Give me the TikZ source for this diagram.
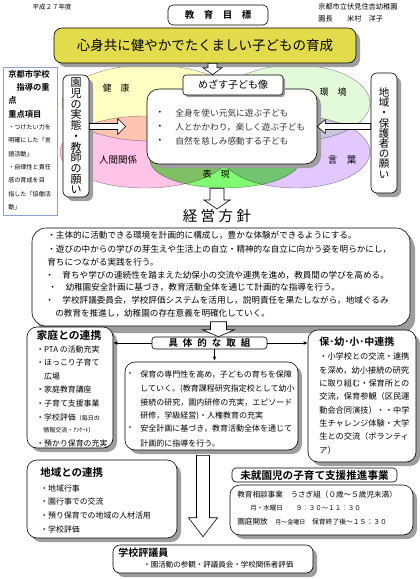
\documentclass[tikz,border=0pt]{standalone}
\usepackage{fontspec}
\setmainfont{Noto Sans CJK JP}[BoldFont={Noto Sans CJK JP Bold}]
\usepackage{tikz}
\usetikzlibrary{arrows.meta,calc,shapes.geometric,shadows}
\definecolor{aimyellow}{RGB}{226,220,76}
\definecolor{kenkou}{RGB}{255,255,196}
\definecolor{ningen}{RGB}{255,196,232}
\definecolor{kankyou}{RGB}{226,250,218}
\definecolor{kotoba}{RGB}{226,200,255}
\definecolor{hyougen}{RGB}{128,250,112}
\definecolor{infoblue}{RGB}{140,160,210}
\newcommand{\fsz}[1]{\fontsize{#1}{#1}\selectfont}
\tikzset{every picture/.style={line width=.6pt}}

\begin{document}
\begin{tikzpicture}[x=1pt,y=-1pt,>={Latex[length=4pt,width=3.5pt]},
 every node/.style={inner sep=0pt},
 panel/.style={draw,fill=white,rounded corners=10pt,
  drop shadow={shadow xshift=4pt,shadow yshift=-4pt,fill=black!38,opacity=1}},
 tag/.style={draw,fill=white,rounded corners=4pt},
 area/.style={ellipse,draw=black!45,line width=.4pt},
 fat/.style n args={3}{to path={
  let \p1=($(\tikztotarget)!#3!(\tikztostart)$) in
  ($(\tikztostart)!#1!90:(\tikztotarget)$)
  -- ($(\p1)!#1!90:(\tikztotarget)$)
  -- ($(\p1)!#2!90:(\tikztotarget)$)
  -- (\tikztotarget)
  -- ($(\p1)!#2!-90:(\tikztotarget)$)
  -- ($(\p1)!#1!-90:(\tikztotarget)$)
  -- ($(\tikztostart)!#1!-90:(\tikztotarget)$) -- cycle}}]
 \useasboundingbox (0,0) rectangle (420,579);
 \fill[white] (0,0) rectangle (420,579);

 % Heading of the sheet.
 \node (year) at (52,7) {\fsz{6.5}平成２７年度};
 \node[anchor=west] (kinder) at (318,7) {\fsz{7.2}京都市立伏見住吉幼稚園};
 \node[anchor=west] (head) at (318,19) {\fsz{7.2}園長　　米村　洋子};
 \node[tag,rounded corners=5pt,minimum width=100pt,minimum height=20pt] (goal)
  at (218,15) {\fsz{9.5}\bfseries 教　育　目　標};

 % The five areas, overlapping.
 \begin{scope}[blend group=multiply]
  \node[area,fill=kenkou,minimum width=176pt,minimum height=76pt] (kenkou) at (150,103) {};
  \node[area,fill=ningen,minimum width=170pt,minimum height=72pt] (ningen) at (145,152) {};
  \node[area,fill=kankyou,minimum width=150pt,minimum height=76pt] (kankyou) at (295,103) {};
  \node[area,fill=kotoba,minimum width=150pt,minimum height=72pt] (kotoba) at (295,152) {};
  \node[area,fill=hyougen,minimum width=150pt,minimum height=56pt] (hyogen) at (225,160) {};
 \end{scope}
 \node (lkenkou) at (116,88) {\fsz{9}健　康};
 \node (lningen) at (118,160) {\fsz{9.5}人間関係};
 \node (lkankyou) at (333,92) {\fsz{9}環　境};
 \node (lkotoba) at (342,160) {\fsz{9.5}言　葉};
 \node (lhyogen) at (216,174) {\fsz{9}表　現};

 \node[draw=infoblue,fill=white,line width=.5pt,minimum width=54pt,minimum height=148pt]
  (info) at (30,141) {};
 \foreach \txt [count=\i] in {京都市学校,　指導の重,点,重点項目}
  \node[anchor=west] (infohead\i) at (8,60.7+13.3*\i) {\fsz{8.3}\bfseries\txt};
 \foreach \txt [count=\i] in {・つけたい力を,明確にした「言,語活動」,・自律性と責任,
  感の育成を目,指した「協働活,動」}
  \node[anchor=west] (infoitem\i) at (8,114+13.3*\i) {\fsz{6.1}\txt};

 \node[panel,rounded corners=6pt,minimum width=26pt,minimum height=122pt,align=center,
  font=\fontsize{11}{10.7}\selectfont] (kids) at (76,136)
  {園\\児\\の\\実\\態\\・\\教\\師\\の\\願\\い};
 \node[panel,rounded corners=6pt,minimum width=26pt,minimum height=120pt,align=center,
  font=\fontsize{10.5}{10.2}\selectfont] (region) at (384,133)
  {地\\域\\・\\保\\護\\者\\の\\願\\い};

 \node[panel,rounded corners=12pt,minimum width=170pt,minimum height=75pt]
  (childbox) at (232,126.5) {};
 \node[tag,rounded corners=3pt,minimum width=100pt,minimum height=20pt,
  drop shadow={shadow xshift=2pt,shadow yshift=-2pt,fill=black!38,opacity=1}]
  (childhead) at (233,85) {\fsz{10}めざす子ども像};
 \foreach \txt [count=\i] in {全身を使い元気に遊ぶ子ども,人とかかわり，楽しく遊ぶ子ども,
  自然を慈しみ感動する子ども}{
  \node (childdot\i) at (160,99+14*\i) {\fsz{8.7}・};
  \node[anchor=west,text=black!80] (child\i) at (175,99+14*\i) {\fsz{8.7}\txt};
 }

 \node[panel,fill=aimyellow,rounded corners=8pt,minimum width=302pt,minimum height=35pt]
  (aim) at (205,45.5) {\fsz{13.5}心身共に健やかでたくましい子どもの育成};

 \draw[fill=white] ([xshift=7.5pt]aim.south) to[fat={4.5pt}{9.5pt}{7pt}]
  ([xshift=-20.5pt]childhead.north);
 \draw[fill=white] (kids.east |- childbox.west) to[fat={3pt}{8pt}{8pt}]
  ([xshift=-21pt]childbox.west);
 \draw[fill=white] (region.west |- childbox.east) to[fat={3pt}{7pt}{8pt}] (childbox.east);

 % Policy of the kindergarten.
 \node (policytitle) at (217,216)
  {\fsz{14.5}経\hspace{3.5pt}営\hspace{3.5pt}方\hspace{3.5pt}針};
 \draw[fill=white] (policytitle.north |- hyogen.south) to[fat={7pt}{13pt}{9pt}]
  (policytitle.north);
 \node[panel,rounded corners=14pt,minimum width=378pt,minimum height=98pt,
  drop shadow={shadow xshift=5pt,shadow yshift=-7pt,fill=black!38,opacity=1}]
  (policy) at (221,277) {};
 \foreach \xx/\yy/\txt [count=\i] in {
  47/235/・主体的に活動できる環境を計画的に構成し，豊かな体験ができるようにする。,
  47/249/・遊びの中からの学びの芽生えや生活上の自立・精神的な自立に向かう姿を明らかにし，,
  47/262/育ちにつながる実践を行う。,
  45/275/・　育ちや学びの連続性を踏まえた幼保小の交流や連携を進め，教員間の学びを高める。,
  48/287/・　幼稚園安全計画に基づき，教育活動全体を通じて計画的な指導を行う。,
  45/300/・　学校評議委員会，学校評価システムを活用し，説明責任を果たしながら，地域ぐるみ,
  55/313/の教育を推進し，幼稚園の存在意義を明確化していく。}
  \node[anchor=west] (policy\i) at (\xx,\yy) {\fsz{8.6}\txt};

 % Concrete measures.
 \node[tag,rounded corners=3pt,minimum width=115pt,minimum height=12pt] (kumi) at (209.5,343)
  {\fsz{9.5}\bfseries 具\hspace{5pt}体\hspace{5pt}的\hspace{5pt}な\hspace{5pt}取\hspace{5pt}組};
 \draw[fill=white] ($(kumi.north)+(9,-15)$) to[fat={8pt}{16pt}{7pt}] ([xshift=9pt]kumi.north);

 \node[panel,minimum width=86pt,minimum height=121pt] (home) at (70,387.5) {};
 \node (hometitle) at (69,335) {\fsz{10.8}\bfseries 家庭との連携};
 \foreach \xx/\yy/\txt [count=\i] in {36/350/・PTA の活動充実,36/363/・ほっこり子育て,
  36/377/　広場,36/390/・家庭教育講座,36/403/・子育て支援事業,
  36/417/・学校評価{\fsz{6}（毎日の},43/430/{\fsz{6}情報交流・ｱﾝｹｰﾄ）},
  36/443/・預かり保育の充実}
  \node[anchor=west] (homeitem\i) at (\xx,\yy) {\fsz{7.9}\txt};

 \node[panel,minimum width=108pt,minimum height=132pt] (school) at (362,396) {};
 \node[anchor=west] (schooltitle) at (319,342) {\fsz{10}\bfseries 保･幼･小･中連携};
 \foreach \txt [count=\i] in {・小学校との交流・連携,を深め，幼小接続の研究,
  に取り組む・保育所との,交流，保育参観（区民運,動会合同演技）・・中学,
  生チャレンジ体験・大学,生との交流（ボランティ,ア）}
  \node[anchor=west] (schoolitem\i) at (319,343.5+13.3*\i) {\fsz{8.2}\txt};

 \node[panel,minimum width=173pt,minimum height=88pt] (practice) at (211.5,406) {};
 \foreach \yy/\txt [count=\i] in {375/保育の専門性を高め，子どもの育ちを保障,
  389/していく。(教育課程研究指定校として幼小,403/接続の研究，園内研修の充実，エピソード,
  416/研修，学級経営)・人権教育の充実,429/安全計画に基づき，教育活動全体を通じて,
  443/計画的に指導を行う。}
  \node[anchor=west] (practice\i) at (140,\yy) {\fsz{8}\txt};
 \node (practicedot1) at (130,375) {\fsz{8}・};
 \node (practicedot2) at (130,429) {\fsz{8}・};

 \draw[->] (kumi.west) -- (home.east |- kumi.west);
 \draw[->] (kumi.east) -- (school.west |- kumi.east);
 \draw[->] ($(kumi.south)+(5,0)$) -- ($(kumi.south |- practice.north)+(5,-1)$);

 % Community, council and support.
 \node[panel,minimum width=150pt,minimum height=78pt] (local) at (102,499) {};
 \node[anchor=west] (localtitle) at (40,473) {\fsz{10.5}\bfseries 地域との連携};
 \foreach \yy/\txt [count=\i] in {488/・地域行事,502/・園行事での交流,
  516/・預り保育での地域の人材活用,529/・学校評価}
  \node[anchor=west] (localitem\i) at (40,\yy) {\fsz{7.9}\txt};

 \node[panel,rounded corners=7pt,minimum width=200pt,minimum height=28pt] (council)
  at (213,559) {};
 \node[anchor=west] (counciltitle) at (118,553) {\fsz{10}\bfseries 学校評議員};
 \node[anchor=west] (councilitem) at (143,565)
  {\fsz{7.5}・園活動の参観・評議員会・学校関係者評価};
 \draw[fill=white] ($(practice.south)+(-8.5,5)$) to[fat={6.5pt}{14.5pt}{19pt}]
  ($(council.north)+(-10,-8)$);

 \node[panel,minimum width=183pt,minimum height=50pt] (support) at (321.5,510) {};
 \node[tag,minimum width=165pt,minimum height=14pt] (supporthead) at (314.5,475)
  {\fsz{10.6}\bfseries 未就園児の子育て支援推進事業};
 \node[anchor=west] (support1) at (237,495) {\fsz{7.6}教育相談事業　うさぎ組（０歳～５歳児未満）};
 \node[anchor=west] (support2) at (250,508) {\fsz{6.5}月・水曜日　　９：３０～１１：３０};
 \node[anchor=west] (support3) at (237,522)
  {\fsz{7.6}園庭開放　{\fsz{6}月～金曜日}{\fsz{6.8}　保育終了後～１５：３０}};
\end{tikzpicture}
\end{document}
